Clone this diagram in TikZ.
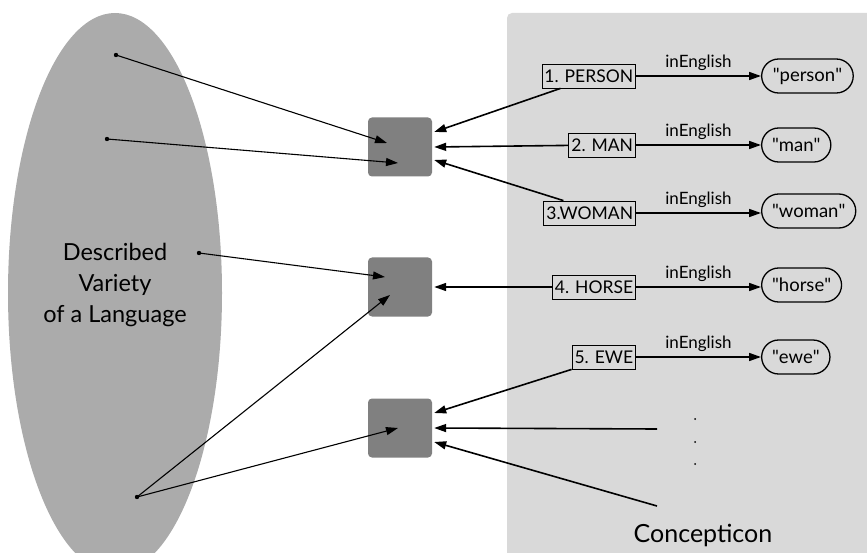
\documentclass[tikz,border=0pt]{standalone}
\usepackage{fontspec}
\setmainfont{Lato}
\usetikzlibrary{arrows.meta,positioning,shapes.misc}
\definecolor{panelgray}{HTML}{D9D9D9}
\definecolor{langgray}{HTML}{ABABAB}
\definecolor{slotgray}{HTML}{808080}
\newcommand{\qt}[1]{\textquotedbl#1\textquotedbl}

\begin{document}
\begin{tikzpicture}[x=1pt, y=-1pt,
        concept/.style={rectangle, draw, line width=0.8pt, anchor=east, minimum height=24pt, inner xsep=2.5pt, inner ysep=1pt, font=\fontsize{17.5}{19}\selectfont},
        gloss/.style={rounded rectangle, draw, line width=1.3pt, anchor=west, minimum height=34pt, inner xsep=9pt, font=\fontsize{18.5}{20}\selectfont},
        slot/.style={rectangle, rounded corners=4pt, fill=slotgray, minimum width=64pt, minimum height=59pt},
        link/.style={-{Triangle[length=12pt,width=8pt]}, line width=1.6pt},
        pointer/.style={-{Triangle[length=12pt,width=8pt]}, line width=1.1pt},
        relname/.style={above=1pt, font=\fontsize{17}{19}\selectfont}]

        \useasboundingbox (0,0) rectangle (867,553);
        \clip (0,0) rectangle (867,553);

        % language side and Concepticon side
        \fill[langgray] (115,293) ellipse [x radius=107, y radius=280];
        \fill[panelgray, rounded corners=5pt] (507,13) rectangle (880,570);
        \node[align=center, font=\fontsize{23.5}{31}\selectfont] (lang) at (115,285) {Described\\Variety\\of a Language};
        \node[font=\fontsize{25}{28}\selectfont] (concepticon) at (703,535) {Concepticon};

        % slots
        \node[slot] (sq1) at (400,147) {};
        \node[slot] (sq2) at (400,287) {};
        \node[slot] (sq3) at (400,428) {};

        % concept sets
        \node[concept] (c1) at (636,76) {1. PERSON};
        \node[concept] (c2) at (636,145) {2. MAN};
        \node[concept] (c3) at (636,213) {3.WOMAN};
        \node[concept] (c4) at (636,287) {4. HORSE};
        \node[concept] (c5) at (636,357) {5. EWE};

        \node[gloss] (g1) at (761,76) {\qt{person}};
        \node[gloss] (g2) at (761,145) {\qt{man}};
        \node[gloss] (g3) at (761,211) {\qt{woman}};
        \node[gloss] (g4) at (761,285) {\qt{horse}};
        \node[gloss] (g5) at (761,357) {\qt{ewe}};

        \draw[link] (c1) -- node[relname] {inEnglish} (g1.west |- c1);
        \draw[link] (c2) -- node[relname] {inEnglish} (g2.west |- c2);
        \draw[link] (c3) -- node[relname] {inEnglish} (g3.west |- c3);
        \draw[link] (c4) -- node[relname] {inEnglish} (g4.west |- c4);
        \draw[link] (c5) -- node[relname] {inEnglish} (g5.west |- c5);

        % words of the language
        \coordinate (w1) at (116,55);
        \coordinate (w2) at (107,139);
        \coordinate (w3) at (199,253);
        \coordinate (w4) at (137,497);
        \foreach \w in {w1,w2,w3,w4} \fill (\w) circle (2.2pt);

        \draw[pointer] (w1) -- ([xshift=-13pt,yshift=4pt]sq1.center);
        \draw[pointer] (w2) -- ([xshift=-2pt,yshift=-16pt]sq1.center);
        \draw[pointer] (w3) -- ([xshift=-15pt,yshift=10pt]sq2.center);
        \draw[pointer] (w4) -- ([xshift=-10pt,yshift=-8pt]sq2.center);
        \draw[pointer] (w4) -- ([xshift=-2pt]sq3.center);

        % links from concept sets
        \draw[link] ([xshift=19pt]c1.south west) -- ([xshift=2pt,yshift=15pt]sq1.east);
        \draw[link] (c2) -- ([xshift=2pt]sq1.east);
        \draw[link] ([xshift=20pt]c3.north west) -- ([xshift=2pt,yshift=-13pt]sq1.east);
        \draw[link] (c4) -- ([xshift=2pt]sq2.east);
        \draw[link] (c5.south west) -- ([xshift=2pt,yshift=15pt]sq3.east);

        \coordinate (more) at (657,429);
        \coordinate (rest) at (657,506);
        \draw[link] (more) -- ([xshift=2pt]sq3.east);
        \draw[link] (rest) -- ([xshift=2pt,yshift=-14pt]sq3.east);
        \foreach \y in {419,442,464} \fill (695,\y) circle (1pt);

    \end{tikzpicture}
\end{document}
